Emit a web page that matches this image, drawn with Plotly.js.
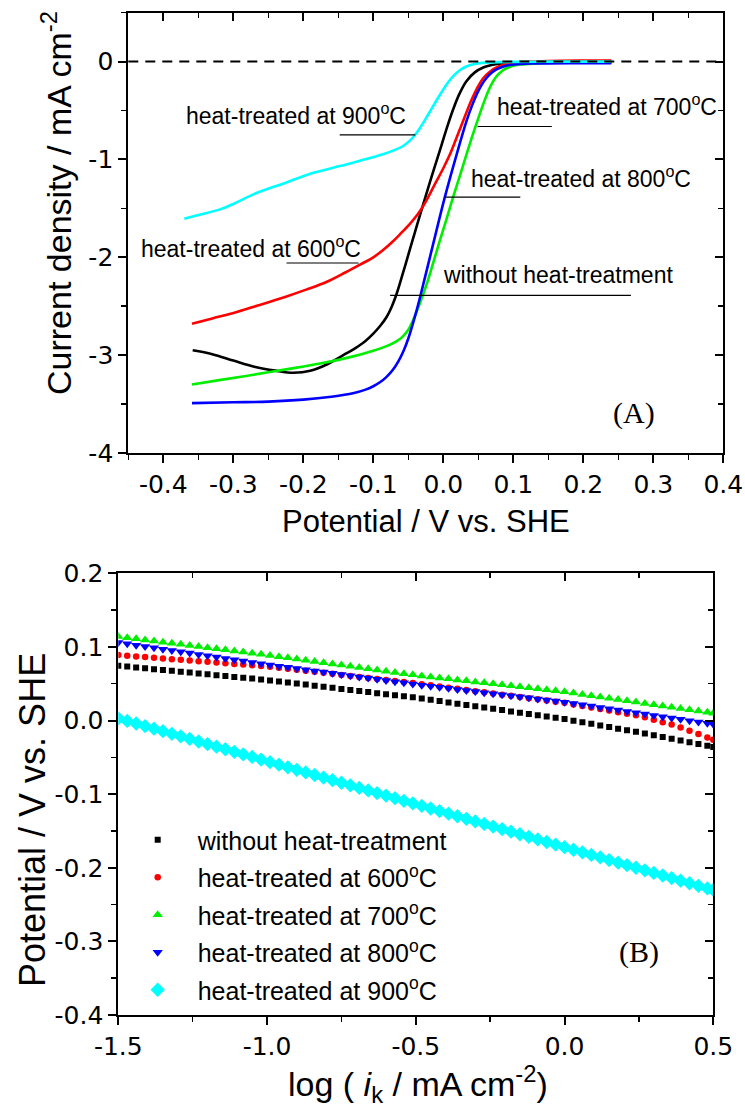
<!DOCTYPE html>
<html>
<head>
<meta charset="utf-8">
<script src="https://cdn.plot.ly/plotly-3.0.1.min.js"></script>
<style>html,body{margin:0;padding:0;background:#fff;}#chart{width:745px;height:1108px;}</style>
</head>
<body>
<div id="chart"></div>
<script>
// ---------- Panel A: polarization curves (Potential / V vs. SHE, current density / mA cm-2) ----------
const noHeatX = [-0.358, -0.330, -0.300, -0.270, -0.240, -0.214, -0.190, -0.165, -0.138, -0.125, -0.112, -0.100, -0.090, -0.081, -0.074, -0.067, -0.058, -0.049, -0.041, -0.033, -0.019, -0.005, 0.005, 0.014, 0.023, 0.033, 0.045, 0.057, 0.069, 0.081, 0.100, 0.150, 0.200, 0.240];
const noHeatY = [-2.950, -2.990, -3.055, -3.118, -3.158, -3.180, -3.160, -3.090, -2.980, -2.925, -2.860, -2.780, -2.700, -2.610, -2.510, -2.380, -2.170, -1.950, -1.755, -1.560, -1.230, -0.910, -0.680, -0.490, -0.330, -0.200, -0.110, -0.060, -0.035, -0.022, -0.014, -0.010, -0.010, -0.010];

const ht600X = [-0.359, -0.330, -0.295, -0.260, -0.224, -0.195, -0.167, -0.140, -0.119, -0.100, -0.086, -0.071, -0.062, -0.048, -0.036, -0.025, -0.014, 0.000, 0.010, 0.021, 0.033, 0.041, 0.048, 0.057, 0.067, 0.079, 0.091, 0.110, 0.150, 0.200, 0.240];
const ht600Y = [-2.680, -2.625, -2.558, -2.482, -2.400, -2.328, -2.252, -2.155, -2.075, -2.000, -1.925, -1.830, -1.765, -1.660, -1.555, -1.430, -1.280, -1.090, -0.940, -0.740, -0.520, -0.380, -0.275, -0.170, -0.100, -0.050, -0.025, -0.005, 0.005, 0.010, 0.012];

const ht700X = [-0.359, -0.320, -0.271, -0.220, -0.176, -0.130, -0.100, -0.080, -0.067, -0.058, -0.050, -0.043, -0.034, -0.024, -0.015, -0.005, 0.005, 0.014, 0.024, 0.033, 0.041, 0.049, 0.056, 0.062, 0.069, 0.076, 0.084, 0.091, 0.100, 0.110, 0.129, 0.160, 0.200, 0.240];
const ht700Y = [-3.300, -3.255, -3.200, -3.140, -3.085, -3.015, -2.955, -2.905, -2.860, -2.810, -2.740, -2.640, -2.480, -2.280, -2.070, -1.830, -1.600, -1.385, -1.160, -0.950, -0.770, -0.600, -0.455, -0.340, -0.230, -0.150, -0.095, -0.065, -0.042, -0.030, -0.020, -0.012, -0.010, -0.010];

const ht800X = [-0.359, -0.300, -0.250, -0.200, -0.160, -0.129, -0.110, -0.100, -0.090, -0.081, -0.072, -0.064, -0.057, -0.050, -0.038, -0.026, -0.014, 0.002, 0.019, 0.033, 0.041, 0.048, 0.055, 0.062, 0.069, 0.076, 0.085, 0.095, 0.110, 0.129, 0.180, 0.240];
const ht800Y = [-3.490, -3.482, -3.475, -3.455, -3.425, -3.390, -3.350, -3.318, -3.275, -3.222, -3.150, -3.060, -2.960, -2.830, -2.540, -2.200, -1.850, -1.390, -0.950, -0.610, -0.450, -0.330, -0.235, -0.165, -0.115, -0.080, -0.052, -0.035, -0.024, -0.019, -0.015, -0.015];

const ht900X = [-0.370, -0.345, -0.319, -0.300, -0.266, -0.225, -0.192, -0.160, -0.130, -0.105, -0.085, -0.070, -0.058, -0.049, -0.041, -0.034, -0.027, -0.019, -0.010, 0.000, 0.008, 0.016, 0.024, 0.032, 0.040, 0.050, 0.062, 0.080, 0.100, 0.150, 0.200, 0.240];
const ht900Y = [-1.605, -1.560, -1.510, -1.455, -1.340, -1.237, -1.150, -1.090, -1.035, -0.985, -0.945, -0.905, -0.865, -0.815, -0.755, -0.685, -0.605, -0.510, -0.400, -0.285, -0.200, -0.135, -0.085, -0.052, -0.032, -0.018, -0.010, -0.005, -0.003, 0.000, 0.000, 0.000];

const topXTickVals = [-0.4, -0.3, -0.2, -0.1, 0.0, 0.1, 0.2, 0.3, 0.4];
const topXTickText = ['-0.4', '-0.3', '-0.2', '-0.1', '0.0', '0.1', '0.2', '0.3', '0.4'];
const topYTickVals = [-4, -3, -2, -1, 0];
const topYTickText = ['-4', '-3', '-2', '-1', '0'];

// ---------- Panel B: Tafel plots (log ik vs potential) ----------
const logIk = [-1.50, -1.47, -1.44, -1.41, -1.38, -1.35, -1.32, -1.29, -1.26, -1.23, -1.20, -1.17, -1.14, -1.11, -1.08, -1.05, -1.02,
  -0.99, -0.96, -0.93, -0.90, -0.87, -0.84, -0.81, -0.78, -0.75, -0.72, -0.69, -0.66, -0.63, -0.60, -0.57, -0.54, -0.51,
  -0.48, -0.45, -0.42, -0.39, -0.36, -0.33, -0.30, -0.27, -0.24, -0.21, -0.18, -0.15, -0.12, -0.09, -0.06, -0.03, 0.00,
  0.03, 0.06, 0.09, 0.12, 0.15, 0.18, 0.21, 0.24, 0.27, 0.30, 0.33, 0.36, 0.39, 0.42, 0.45, 0.48, 0.50];

const tafelNoHeat = [0.0745, 0.0733, 0.0722, 0.0710, 0.0698, 0.0687, 0.0675, 0.0663, 0.0651, 0.0640, 0.0628, 0.0616, 0.0605, 0.0593, 0.0581, 0.0570, 0.0558,
  0.0545, 0.0531, 0.0516, 0.0502, 0.0488, 0.0473, 0.0459, 0.0444, 0.0430, 0.0416, 0.0401, 0.0387, 0.0372, 0.0358, 0.0344, 0.0329, 0.0315,
  0.0298, 0.0281, 0.0264, 0.0246, 0.0229, 0.0211, 0.0194, 0.0177, 0.0159, 0.0142, 0.0124, 0.0107, 0.0090, 0.0072, 0.0055, 0.0037, 0.0020,
  -0.0002, -0.0023, -0.0045, -0.0066, -0.0088, -0.0110, -0.0131, -0.0153, -0.0176, -0.0200, -0.0224, -0.0248, -0.0272, -0.0296, -0.0320, -0.0344, -0.0360];

const tafel600 = [0.0890, 0.0881, 0.0871, 0.0862, 0.0853, 0.0844, 0.0834, 0.0825, 0.0816, 0.0806, 0.0797, 0.0788, 0.0778, 0.0769, 0.0760, 0.0751, 0.0741,
  0.0730, 0.0716, 0.0703, 0.0689, 0.0675, 0.0661, 0.0648, 0.0634, 0.0620, 0.0606, 0.0592, 0.0579, 0.0565, 0.0551, 0.0537, 0.0524, 0.0510,
  0.0494, 0.0479, 0.0463, 0.0447, 0.0431, 0.0415, 0.0399, 0.0383, 0.0367, 0.0351, 0.0335, 0.0320, 0.0304, 0.0288, 0.0272, 0.0256, 0.0240,
  0.0219, 0.0198, 0.0177, 0.0156, 0.0135, 0.0114, 0.0093, 0.0072, 0.0043, 0.0011, -0.0022, -0.0054, -0.0093, -0.0138, -0.0184, -0.0230, -0.0260];

const tafel700 = [0.1140, 0.1125, 0.1110, 0.1095, 0.1080, 0.1065, 0.1050, 0.1035, 0.1020, 0.1005, 0.0990, 0.0975, 0.0960, 0.0945, 0.0930, 0.0915, 0.0900,
  0.0885, 0.0868, 0.0852, 0.0835, 0.0819, 0.0802, 0.0786, 0.0769, 0.0753, 0.0736, 0.0720, 0.0703, 0.0687, 0.0670, 0.0654, 0.0637, 0.0621,
  0.0606, 0.0593, 0.0579, 0.0566, 0.0552, 0.0539, 0.0525, 0.0512, 0.0498, 0.0485, 0.0471, 0.0458, 0.0444, 0.0431, 0.0417, 0.0404, 0.0390,
  0.0373, 0.0355, 0.0338, 0.0320, 0.0303, 0.0286, 0.0268, 0.0251, 0.0233, 0.0216, 0.0199, 0.0181, 0.0164, 0.0146, 0.0129, 0.0112, 0.0100];

const tafel800 = [0.1060, 0.1042, 0.1024, 0.1006, 0.0988, 0.0970, 0.0952, 0.0934, 0.0916, 0.0898, 0.0880, 0.0862, 0.0844, 0.0826, 0.0808, 0.0790, 0.0772,
  0.0755, 0.0739, 0.0723, 0.0706, 0.0690, 0.0674, 0.0658, 0.0642, 0.0625, 0.0609, 0.0593, 0.0577, 0.0560, 0.0544, 0.0528, 0.0512, 0.0495,
  0.0480, 0.0466, 0.0451, 0.0437, 0.0423, 0.0408, 0.0394, 0.0379, 0.0365, 0.0351, 0.0336, 0.0322, 0.0308, 0.0293, 0.0279, 0.0264, 0.0250,
  0.0232, 0.0214, 0.0196, 0.0178, 0.0160, 0.0142, 0.0124, 0.0106, 0.0088, 0.0070, 0.0052, 0.0034, 0.0016, -0.0002, -0.0020, -0.0038, -0.0050];

const tafel900 = [0.0030, -0.0005, -0.0040, -0.0075, -0.0110, -0.0145, -0.0180, -0.0215, -0.0250, -0.0285, -0.0320, -0.0355, -0.0390, -0.0425, -0.0460, -0.0495, -0.0530,
  -0.0565, -0.0600, -0.0635, -0.0670, -0.0705, -0.0740, -0.0775, -0.0810, -0.0845, -0.0880, -0.0915, -0.0950, -0.0985, -0.1020, -0.1055, -0.1090, -0.1125,
  -0.1160, -0.1195, -0.1230, -0.1265, -0.1300, -0.1335, -0.1370, -0.1405, -0.1440, -0.1475, -0.1510, -0.1545, -0.1580, -0.1615, -0.1650, -0.1685, -0.1720,
  -0.1755, -0.1790, -0.1825, -0.1860, -0.1895, -0.1930, -0.1965, -0.2000, -0.2035, -0.2070, -0.2105, -0.2140, -0.2175, -0.2210, -0.2245, -0.2280, -0.2300];

const bottomXTickVals = [-1.5, -1.0, -0.5, 0.0, 0.5];
const bottomXTickText = ['-1.5', '-1.0', '-0.5', '0.0', '0.5'];
const bottomYTickVals = [-0.4, -0.3, -0.2, -0.1, 0.0, 0.1, 0.2];
const bottomYTickText = ['-0.4', '-0.3', '-0.2', '-0.1', '0.0', '0.1', '0.2'];

const seriesNames = ['without heat-treatment', 'heat-treated at 600<sup>o</sup>C', 'heat-treated at 700<sup>o</sup>C', 'heat-treated at 800<sup>o</sup>C', 'heat-treated at 900<sup>o</sup>C'];
const seriesColors = ['#000000', '#ff0000', '#00ee00', '#0000ff', '#00ffff'];

// ---------- figure ----------
const SANS = 'Liberation Sans, Arial, Helvetica, sans-serif';
const TICKF = 'DejaVu Sans, Liberation Sans, Arial, sans-serif';
const SERIF = 'Liberation Serif, Times New Roman, serif';

const topSeries = [[noHeatX, noHeatY], [ht600X, ht600Y], [ht700X, ht700Y], [ht800X, ht800Y], [ht900X, ht900Y]];
const traces = [];
topSeries.forEach((s, i) => {
  traces.push({x: s[0], y: s[1], type: 'scatter', mode: 'lines', xaxis: 'x', yaxis: 'y',
    line: {color: seriesColors[i], width: 2.6, shape: 'spline', smoothing: 1}, showlegend: false, hoverinfo: 'skip'});
});
const tafelSeries = [tafelNoHeat, tafel600, tafel700, tafel800, tafel900];
const symbols = ['square', 'circle', 'triangle-up', 'triangle-down', 'diamond'];
const msizes = [6, 6.5, 9, 9, 11];
tafelSeries.forEach((ys, i) => {
  traces.push({x: logIk, y: ys, type: 'scatter', mode: 'markers', xaxis: 'x2', yaxis: 'y2',
    name: seriesNames[i], legendgroup: 'g' + i,
    marker: {symbol: symbols[i], color: seriesColors[i], size: msizes[i], line: {width: 0}}, hoverinfo: 'skip'});
});
// empty traces to carry the mirrored (inside-tick) axes
traces.push({x: [], y: [], xaxis: 'x3', yaxis: 'y3', type: 'scatter', mode: 'lines', showlegend: false});
traces.push({x: [], y: [], xaxis: 'x4', yaxis: 'y4', type: 'scatter', mode: 'lines', showlegend: false});

const W = 745, H = 1108;
const topDomX = [128.3 / W, 723.3 / W], topDomY = [1 - 453 / H, 1 - 12.7 / H];
const botDomX = [118.3 / W, 713.3 / W], botDomY = [1 - 1015 / H, 1 - 573.3 / H];

function axisBase(extra) {
  return Object.assign({
    showline: true, linewidth: 2, linecolor: 'black', showgrid: false, zeroline: false,
    ticks: 'outside', ticklen: 8, tickwidth: 2, tickcolor: 'black', fixedrange: true,
    tickfont: {family: TICKF, size: 25, color: 'black'}
  }, extra);
}
function mirrorAxis(extra) {
  return Object.assign({
    showline: true, linewidth: 2, linecolor: 'black', showgrid: false, zeroline: false,
    ticks: 'inside', ticklen: 8, tickwidth: 2, tickcolor: 'black', showticklabels: false, fixedrange: true,
    tickfont: {family: TICKF, size: 25, color: 'black'}
  }, extra);
}

const layout = {
  width: W, height: H, margin: {l: 0, r: 0, t: 0, b: 0},
  paper_bgcolor: 'white', plot_bgcolor: 'rgba(0,0,0,0)',
  font: {family: SANS, size: 20, color: 'black'},
  xaxis: axisBase({domain: topDomX, anchor: 'y', range: [-0.45, 0.4], tickmode: 'array', tickvals: topXTickVals, ticktext: topXTickText,
    minor: {tickmode: 'linear', tick0: 0, dtick: 0.05, ticks: 'outside', ticklen: 5, tickwidth: 1.5, tickcolor: 'black'}}),
  yaxis: axisBase({domain: topDomY, anchor: 'x', range: [-4, 0.5], tickmode: 'array', tickvals: topYTickVals, ticktext: topYTickText,
    minor: {tickmode: 'linear', tick0: 0, dtick: 0.5, ticks: 'outside', ticklen: 5, tickwidth: 1.5, tickcolor: 'black'}}),
  xaxis3: mirrorAxis({overlaying: 'x', anchor: 'y3', side: 'top', range: [-0.45, 0.4], tickmode: 'linear', tick0: 0, dtick: 0.1,
    minor: {tickmode: 'linear', tick0: 0, dtick: 0.05, ticks: 'inside', ticklen: 5, tickwidth: 1.5, tickcolor: 'black'}}),
  yaxis3: mirrorAxis({overlaying: 'y', anchor: 'x3', side: 'right', range: [-4, 0.5], tickmode: 'linear', tick0: 0, dtick: 1,
    minor: {tickmode: 'linear', tick0: 0, dtick: 0.5, ticks: 'inside', ticklen: 5, tickwidth: 1.5, tickcolor: 'black'}}),
  xaxis2: axisBase({domain: botDomX, anchor: 'y2', range: [-1.5, 0.5], tickmode: 'array', tickvals: bottomXTickVals, ticktext: bottomXTickText,
    minor: {tickmode: 'linear', tick0: 0, dtick: 0.25, ticks: 'outside', ticklen: 5, tickwidth: 1.5, tickcolor: 'black'}}),
  yaxis2: axisBase({domain: botDomY, anchor: 'x2', range: [-0.4, 0.2], tickmode: 'array', tickvals: bottomYTickVals, ticktext: bottomYTickText,
    minor: {tickmode: 'linear', tick0: 0, dtick: 0.05, ticks: 'outside', ticklen: 5, tickwidth: 1.5, tickcolor: 'black'}}),
  xaxis4: mirrorAxis({overlaying: 'x2', anchor: 'y4', side: 'top', range: [-1.5, 0.5], tickmode: 'linear', tick0: 0, dtick: 0.5,
    minor: {tickmode: 'linear', tick0: 0, dtick: 0.25, ticks: 'inside', ticklen: 5, tickwidth: 1.5, tickcolor: 'black'}}),
  yaxis4: mirrorAxis({overlaying: 'y2', anchor: 'x4', side: 'right', range: [-0.4, 0.2], tickmode: 'linear', tick0: 0, dtick: 0.1,
    minor: {tickmode: 'linear', tick0: 0, dtick: 0.05, ticks: 'inside', ticklen: 5, tickwidth: 1.5, tickcolor: 'black'}}),
  showlegend: true,
  legend: {x: 117.7 / W, y: 1 - 817 / H, xanchor: 'left', yanchor: 'top', bgcolor: 'rgba(0,0,0,0)', borderwidth: 0,
    font: {family: SANS, size: 25, color: 'black'}, itemwidth: 70, traceorder: 'grouped', tracegroupgap: 2, itemclick: false, itemdoubleclick: false},
  shapes: [
    {type: 'line', xref: 'x domain', yref: 'y', x0: 0, x1: 1, y0: 0, y1: 0, line: {color: 'black', width: 2, dash: '10px,7px'}},
    {type: 'line', xref: 'x', yref: 'y', x0: -0.148, x1: -0.040, y0: -0.748, y1: -0.748, line: {color: 'black', width: 1.2}},
    {type: 'line', xref: 'x', yref: 'y', x0: 0.049, x1: 0.155, y0: -0.663, y1: -0.663, line: {color: 'black', width: 1.2}},
    {type: 'line', xref: 'x', yref: 'y', x0: 0.002, x1: 0.110, y0: -1.385, y1: -1.385, line: {color: 'black', width: 1.2}},
    {type: 'line', xref: 'x', yref: 'y', x0: -0.076, x1: 0.268, y0: -2.390, y1: -2.390, line: {color: 'black', width: 1.2}},
    {type: 'line', xref: 'x', yref: 'y', x0: -0.224, x1: -0.121, y0: -2.058, y1: -2.058, line: {color: 'black', width: 1.2}}
  ],
  annotations: [
    {text: 'heat-treated at 900<sup>o</sup>C', xref: 'x', yref: 'y', x: -0.371, y: -0.535, xanchor: 'left', yanchor: 'middle', showarrow: false, font: {family: SANS, size: 23}},
    {text: 'heat-treated at 700<sup>o</sup>C', xref: 'x', yref: 'y', x: 0.074, y: -0.445, xanchor: 'left', yanchor: 'middle', showarrow: false, font: {family: SANS, size: 23}},
    {text: 'heat-treated at 800<sup>o</sup>C', xref: 'x', yref: 'y', x: 0.036, y: -1.175, xanchor: 'left', yanchor: 'middle', showarrow: false, font: {family: SANS, size: 23}},
    {text: 'without heat-treatment', xref: 'x', yref: 'y', x: -0.004, y: -2.184, xanchor: 'left', yanchor: 'middle', showarrow: false, font: {family: SANS, size: 23}},
    {text: 'heat-treated at 600<sup>o</sup>C', xref: 'x', yref: 'y', x: -0.435, y: -1.895, xanchor: 'left', yanchor: 'middle', showarrow: false, font: {family: SANS, size: 23}},
    {text: '(A)', xref: 'x', yref: 'y', x: 0.273, y: -3.595, xanchor: 'center', yanchor: 'middle', showarrow: false, font: {family: SERIF, size: 30}},
    {text: '(B)', xref: 'x2', yref: 'y2', x: 0.25, y: -0.315, xanchor: 'center', yanchor: 'middle', showarrow: false, font: {family: SERIF, size: 30}},
    {text: 'Potential / V vs. SHE', xref: 'paper', yref: 'paper', x: 425.8 / W, y: 1 - 521 / H, xanchor: 'center', yanchor: 'middle', showarrow: false, font: {family: SANS, size: 31}},
    {text: 'Current density / mA cm<sup>-2</sup>', xref: 'paper', yref: 'paper', x: 57 / W, y: 1 - 203 / H, xanchor: 'center', yanchor: 'middle', textangle: -90, showarrow: false, font: {family: SANS, size: 34}},
    {text: 'Potential / V vs. SHE', xref: 'paper', yref: 'paper', x: 32 / W, y: 1 - 820 / H, xanchor: 'center', yanchor: 'middle', textangle: -90, showarrow: false, font: {family: SANS, size: 36}},
    {text: 'log ( <i>i</i><sub>k</sub> / mA cm<sup>-2</sup>)', xref: 'paper', yref: 'paper', x: 417.5 / W, y: 1 - 1084 / H, xanchor: 'center', yanchor: 'middle', showarrow: false, font: {family: SANS, size: 34}}
  ]
};

Plotly.newPlot('chart', traces, layout, {staticPlot: true, displayModeBar: false});
</script>
</body>
</html>
